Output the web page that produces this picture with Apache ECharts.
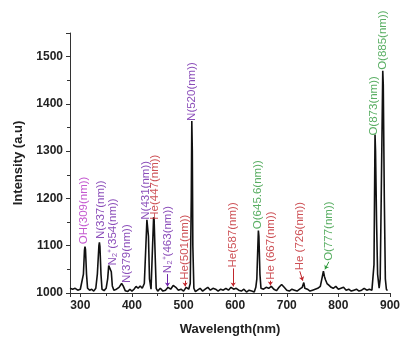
<!DOCTYPE html>
<html>
<head>
<meta charset="utf-8">
<script src="https://cdn.jsdelivr.net/npm/echarts@6/dist/echarts.min.js"></script>
<style>html,body{margin:0;padding:0;background:#fff}#c{width:403px;height:341px}</style>
</head>
<body>
<div id="c"></div>
<script>
// Spectrum (wavelength nm, intensity a.u.)
var wavelengths = [280,285,290,295,300,303,306,308,309,310,312,314,318,322,326,330,333,336,337,338,340,342,346,350,353,355,357,358,360,362,365,370,375,380,383,387,392,396,400,404,408,412,416,420,424,427,429,430,432,434,437,440,442,443,445,447,450,455,460,465,470,475,480,485,490,495,500,505,510,513,515,516,517,518,520,523,527,532,537,542,547,552,557,562,567,572,577,582,587,592,597,602,607,612,617,622,627,632,637,640,642,644,645,646,648,650,655,660,665,670,675,680,685,690,695,700,705,710,715,720,725,730,733,735,740,745,750,755,760,765,768,771,773,775,778,782,786,790,795,800,805,810,815,820,825,830,835,840,845,850,855,860,865,868,869,871,872,874,876,879,881,883,886,887,889,891,893,895];
var intensities = [1010,1008,1010,1006,1008,1010,1040,1090,1098,1092,1040,1010,1006,1008,1004,1010,1040,1100,1107,1098,1040,1008,1005,1010,1030,1058,1062,1055,1045,1015,1006,1008,1012,1020,1015,1005,1003,1008,1004,1008,1014,1010,1015,1010,1020,1100,1155,1158,1120,1030,1008,1100,1160,1155,1080,1010,1004,1010,1004,1006,1012,1008,1016,1012,1006,1008,1004,1012,1008,1020,1200,1364,1300,1100,1010,1003,1006,1010,1004,1008,1012,1006,1010,1008,1004,1008,1006,1010,1006,1012,1008,1010,1006,1004,1008,1002,1006,1004,1002,1012,1030,1100,1132,1120,1040,1010,1008,1012,1010,1014,1008,1005,1012,1018,1012,1006,1004,1008,1006,1004,1008,1012,1022,1010,1008,1004,1006,1008,1010,1014,1030,1046,1035,1028,1020,1016,1012,1010,1014,1008,1010,1012,1006,1008,1004,1006,1008,1004,1006,1010,1006,1008,1006,1010,1060,1335,1300,1150,1040,1010,1030,1200,1470,1440,1200,1030,1008,1005];

// Peak annotations (text, anchor wavelength, anchor intensity)
var annText = ['OH(309(nm))','N(337(nm))','N\u2082\u207A(354(nm))','N(379(nm))','N(431(nm))','He(447(nm))','N\u2082\u207A(463(nm))','He(501(nm))','N(520(nm))','He(587(nm))','O(645.6(nm))','He (667(nm))','He (726(nm))','O(777(nm))','O(873(nm))','O(885(nm))'];
var annX = [307.6,339.9,362.7,391,427.2,444.3,469,503,516.4,596.2,643.6,668.3,725.3,782.2,869.6,886.7];
var annY = [1103,1114,1058,1021,1155,1155,1042,1028,1364,1054,1135,1028,1048,1068,1333,1472];

// Leader arrows: from label to line
var leadX1 = [469,503,596.2,668.3,725.3,781.5];
var leadY1 = [1040,1026,1052,1026,1046,1066];
var leadX2 = [469,503,596.2,668.3,731,774];
var leadY2 = [1014,1014,1014,1016,1026,1050];
var leadElem = ['N','He','He','He','He','O'];

function colorFor(t){
  if (t.indexOf('OH')===0) return '#b52fc4';
  if (t.indexOf('He')===0) return '#c0262c';
  if (t.indexOf('O')===0) return '#2f9a3c';
  return '#6e22a8';
}

var chart = echarts.init(document.getElementById('c'), null, {renderer:'canvas'});
var spec = wavelengths.map(function(w,i){return [w,intensities[i]];});
var ann = annText.map(function(t,i){
  return {value:[annX[i],annY[i]], label:{color:colorFor(t)}};
});
var leads = leadX1.map(function(x,i){
  var c = colorFor(leadElem[i]);
  return {coords:[[x,leadY1[i]],[leadX2[i],leadY2[i]]], lineStyle:{color:c}};
});

var FF = 'Liberation Sans, Arial, sans-serif';
var axisTxt = {color:'#222', fontWeight:'bold', fontSize:12, fontFamily:FF};
chart.setOption({
  animation:false,
  backgroundColor:'#fff',
  grid:{left:70,right:6,top:33,bottom:43,containLabel:false},
  xAxis:{
    type:'value', min:280, max:900, splitNumber:6,
    name:'Wavelength(nm)', nameLocation:'middle', nameGap:30,
    nameTextStyle:{color:'#222',fontWeight:'bold',fontSize:13,fontFamily:FF},
    axisLine:{show:true,lineStyle:{color:'#333',width:1}},
    axisTick:{show:true,length:4,inside:false,lineStyle:{color:'#333'}},
    minorTick:{show:true,splitNumber:2,length:3,lineStyle:{color:'#333'}},
    axisLabel:Object.assign({margin:7,showMinLabel:false,formatter:function(v){return String(v);}},axisTxt),
    splitLine:{show:false}
  },
  yAxis:{
    type:'value', min:1000, max:1550, interval:100,
    name:'Intensity (a.u)', nameLocation:'middle', nameGap:44,
    nameTextStyle:{color:'#222',fontWeight:'bold',fontSize:13,fontFamily:FF},
    axisLine:{show:true,lineStyle:{color:'#333',width:1}},
    axisTick:{show:true,length:4,lineStyle:{color:'#333'}},
    minorTick:{show:true,splitNumber:2,length:3,lineStyle:{color:'#333'}},
    axisLabel:Object.assign({margin:7,showMaxLabel:false,formatter:function(v){return String(v);}},axisTxt),
    splitLine:{show:false}
  },
  series:[
    {type:'line', data:spec, showSymbol:false, symbol:'none',
     lineStyle:{color:'#111',width:1.6}, z:3},
    {type:'scatter', data:ann, symbolSize:0, z:5,
     label:{show:true, rotate:90, position:[0,0], align:'left', verticalAlign:'middle',
       fontSize:11.5, fontFamily:FF,
       formatter:function(p){return annText[p.dataIndex];}},
     labelLayout:{hideOverlap:false}},
    {type:'lines', coordinateSystem:'cartesian2d', data:leads, z:4,
     symbol:['none','arrow'], symbolSize:4, lineStyle:{width:1,opacity:1}}
  ]
});
</script>
</body>
</html>
